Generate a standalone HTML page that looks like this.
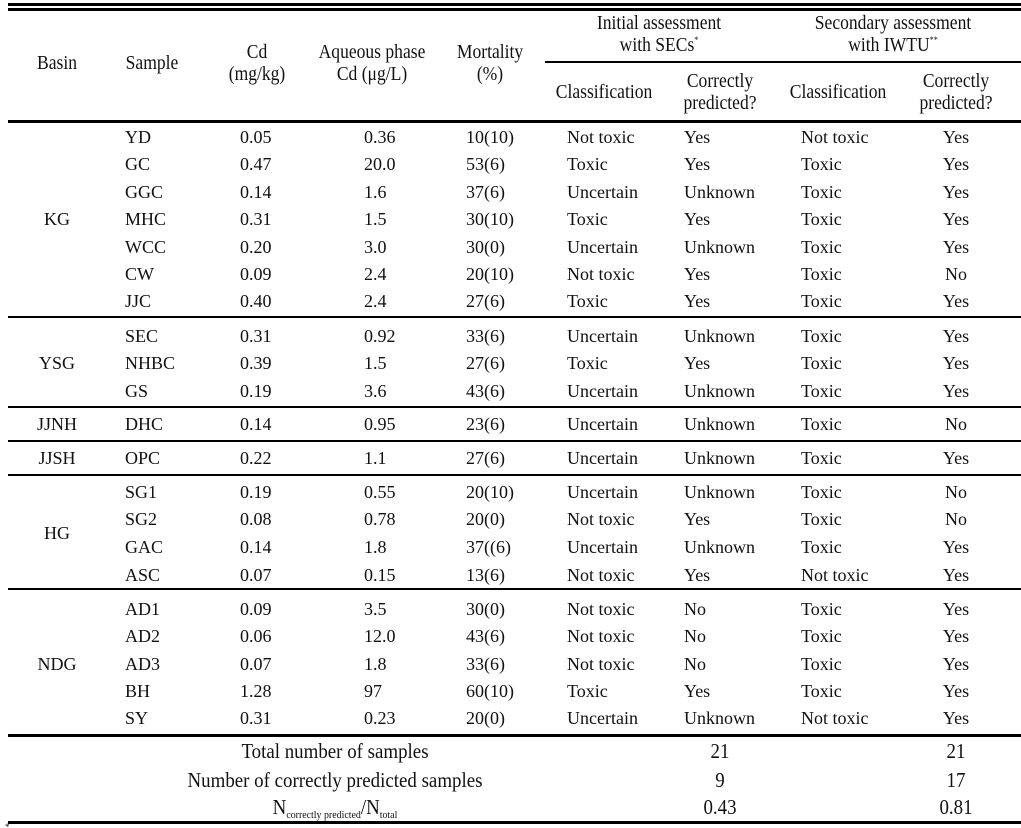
<!DOCTYPE html>
<html><head><meta charset="utf-8"><style>
body{margin:0;background:#fff;}
#c{position:relative;width:1021px;height:828px;font-family:"Liberation Serif",serif;font-size:18px;color:#111;overflow:hidden}
.l{position:absolute;background:#000;height:2px;left:8px;width:1013px}
.r{position:absolute;left:0;width:1021px;height:20px;line-height:20px}
.r span{position:absolute;white-space:nowrap}
.a{left:125px}.b{left:240px}.c{left:364px}.d{left:466px}.e{left:567px}.f{left:684px}.g{left:801px}
.h{left:926px;width:60px;text-align:center}
.t{position:absolute;text-align:center;line-height:22px;white-space:nowrap}
.hd{font-size:19.5px;transform:scaleX(0.9)}
.ft{font-size:21px;transform:scaleX(0.9)}
sup{font-size:9px;line-height:0;vertical-align:8px}
sub{font-size:11px;line-height:0;vertical-align:-4px}
</style></head><body><div id="c">
<div class="l" style="top:3px;height:3px"></div>
<div class="l" style="top:8px;height:3px"></div>
<div class="l" style="top:61px;left:545px;width:476px"></div>
<div class="l" style="top:120px;height:3px"></div>
<div class="l" style="top:316px"></div>
<div class="l" style="top:406px"></div>
<div class="l" style="top:440px"></div>
<div class="l" style="top:474px"></div>
<div class="l" style="top:588px"></div>
<div class="l" style="top:734px;height:3px"></div>
<div class="l" style="top:821px;height:3px"></div>
<div style="position:absolute;left:5px;top:822px;font-size:9px">*</div>

<div class="t hd" style="left:7px;width:100px;top:53px">Basin</div>
<div class="t hd" style="left:102px;width:100px;top:53px">Sample</div>
<div class="t hd" style="left:207px;width:100px;top:42px">Cd<br>(mg/kg)</div>
<div class="t hd" style="left:297px;width:150px;top:42px">Aqueous phase<br>Cd (μg/L)</div>
<div class="t hd" style="left:430px;width:120px;top:42px">Mortality<br>(%)</div>
<div class="t hd" style="left:559px;width:200px;top:13px">Initial assessment<br>with SECs<sup>*</sup></div>
<div class="t hd" style="left:788px;width:210px;top:13px">Secondary assessment<br>with IWTU<sup>**</sup></div>
<div class="t hd" style="left:539px;width:130px;top:82px">Classification</div>
<div class="t hd" style="left:660px;width:120px;top:71px">Correctly<br>predicted?</div>
<div class="t hd" style="left:773px;width:130px;top:82px">Classification</div>
<div class="t hd" style="left:896px;width:120px;top:71px">Correctly<br>predicted?</div>

<div class="t" style="left:17px;width:80px;top:208px">KG</div>
<div class="t" style="left:17px;width:80px;top:352px">YSG</div>
<div class="t" style="left:17px;width:80px;top:413px">JJNH</div>
<div class="t" style="left:17px;width:80px;top:447px">JJSH</div>
<div class="t" style="left:17px;width:80px;top:522px">HG</div>
<div class="t" style="left:17px;width:80px;top:653px">NDG</div>

<div class="r" style="top:127px"><span class="a">YD</span><span class="b">0.05</span><span class="c">0.36</span><span class="d">10(10)</span><span class="e">Not toxic</span><span class="f">Yes</span><span class="g">Not toxic</span><span class="h">Yes</span></div>
<div class="r" style="top:154px"><span class="a">GC</span><span class="b">0.47</span><span class="c">20.0</span><span class="d">53(6)</span><span class="e">Toxic</span><span class="f">Yes</span><span class="g">Toxic</span><span class="h">Yes</span></div>
<div class="r" style="top:182px"><span class="a">GGC</span><span class="b">0.14</span><span class="c">1.6</span><span class="d">37(6)</span><span class="e">Uncertain</span><span class="f">Unknown</span><span class="g">Toxic</span><span class="h">Yes</span></div>
<div class="r" style="top:209px"><span class="a">MHC</span><span class="b">0.31</span><span class="c">1.5</span><span class="d">30(10)</span><span class="e">Toxic</span><span class="f">Yes</span><span class="g">Toxic</span><span class="h">Yes</span></div>
<div class="r" style="top:237px"><span class="a">WCC</span><span class="b">0.20</span><span class="c">3.0</span><span class="d">30(0)</span><span class="e">Uncertain</span><span class="f">Unknown</span><span class="g">Toxic</span><span class="h">Yes</span></div>
<div class="r" style="top:264px"><span class="a">CW</span><span class="b">0.09</span><span class="c">2.4</span><span class="d">20(10)</span><span class="e">Not toxic</span><span class="f">Yes</span><span class="g">Toxic</span><span class="h">No</span></div>
<div class="r" style="top:291px"><span class="a">JJC</span><span class="b">0.40</span><span class="c">2.4</span><span class="d">27(6)</span><span class="e">Toxic</span><span class="f">Yes</span><span class="g">Toxic</span><span class="h">Yes</span></div>
<div class="r" style="top:326px"><span class="a">SEC</span><span class="b">0.31</span><span class="c">0.92</span><span class="d">33(6)</span><span class="e">Uncertain</span><span class="f">Unknown</span><span class="g">Toxic</span><span class="h">Yes</span></div>
<div class="r" style="top:353px"><span class="a">NHBC</span><span class="b">0.39</span><span class="c">1.5</span><span class="d">27(6)</span><span class="e">Toxic</span><span class="f">Yes</span><span class="g">Toxic</span><span class="h">Yes</span></div>
<div class="r" style="top:381px"><span class="a">GS</span><span class="b">0.19</span><span class="c">3.6</span><span class="d">43(6)</span><span class="e">Uncertain</span><span class="f">Unknown</span><span class="g">Toxic</span><span class="h">Yes</span></div>
<div class="r" style="top:414px"><span class="a">DHC</span><span class="b">0.14</span><span class="c">0.95</span><span class="d">23(6)</span><span class="e">Uncertain</span><span class="f">Unknown</span><span class="g">Toxic</span><span class="h">No</span></div>
<div class="r" style="top:448px"><span class="a">OPC</span><span class="b">0.22</span><span class="c">1.1</span><span class="d">27(6)</span><span class="e">Uncertain</span><span class="f">Unknown</span><span class="g">Toxic</span><span class="h">Yes</span></div>
<div class="r" style="top:482px"><span class="a">SG1</span><span class="b">0.19</span><span class="c">0.55</span><span class="d">20(10)</span><span class="e">Uncertain</span><span class="f">Unknown</span><span class="g">Toxic</span><span class="h">No</span></div>
<div class="r" style="top:509px"><span class="a">SG2</span><span class="b">0.08</span><span class="c">0.78</span><span class="d">20(0)</span><span class="e">Not toxic</span><span class="f">Yes</span><span class="g">Toxic</span><span class="h">No</span></div>
<div class="r" style="top:537px"><span class="a">GAC</span><span class="b">0.14</span><span class="c">1.8</span><span class="d">37((6)</span><span class="e">Uncertain</span><span class="f">Unknown</span><span class="g">Toxic</span><span class="h">Yes</span></div>
<div class="r" style="top:565px"><span class="a">ASC</span><span class="b">0.07</span><span class="c">0.15</span><span class="d">13(6)</span><span class="e">Not toxic</span><span class="f">Yes</span><span class="g">Not toxic</span><span class="h">Yes</span></div>
<div class="r" style="top:599px"><span class="a">AD1</span><span class="b">0.09</span><span class="c">3.5</span><span class="d">30(0)</span><span class="e">Not toxic</span><span class="f">No</span><span class="g">Toxic</span><span class="h">Yes</span></div>
<div class="r" style="top:626px"><span class="a">AD2</span><span class="b">0.06</span><span class="c">12.0</span><span class="d">43(6)</span><span class="e">Not toxic</span><span class="f">No</span><span class="g">Toxic</span><span class="h">Yes</span></div>
<div class="r" style="top:654px"><span class="a">AD3</span><span class="b">0.07</span><span class="c">1.8</span><span class="d">33(6)</span><span class="e">Not toxic</span><span class="f">No</span><span class="g">Toxic</span><span class="h">Yes</span></div>
<div class="r" style="top:681px"><span class="a">BH</span><span class="b">1.28</span><span class="c">97</span><span class="d">60(10)</span><span class="e">Toxic</span><span class="f">Yes</span><span class="g">Toxic</span><span class="h">Yes</span></div>
<div class="r" style="top:708px"><span class="a">SY</span><span class="b">0.31</span><span class="c">0.23</span><span class="d">20(0)</span><span class="e">Uncertain</span><span class="f">Unknown</span><span class="g">Not toxic</span><span class="h">Yes</span></div>

<div class="t ft" style="left:135px;width:400px;top:740px">Total number of samples</div>
<div class="t ft" style="left:85px;width:500px;top:769px">Number of correctly predicted samples</div>
<div class="t ft" style="left:135px;width:400px;top:796px">N<sub>correctly predicted</sub>/N<sub>total</sub></div>
<div class="t ft" style="left:690px;width:60px;top:740px">21</div>
<div class="t ft" style="left:690px;width:60px;top:769px">9</div>
<div class="t ft" style="left:690px;width:60px;top:796px">0.43</div>
<div class="t ft" style="left:926px;width:60px;top:740px">21</div>
<div class="t ft" style="left:926px;width:60px;top:769px">17</div>
<div class="t ft" style="left:926px;width:60px;top:796px">0.81</div>
</div></body></html>
